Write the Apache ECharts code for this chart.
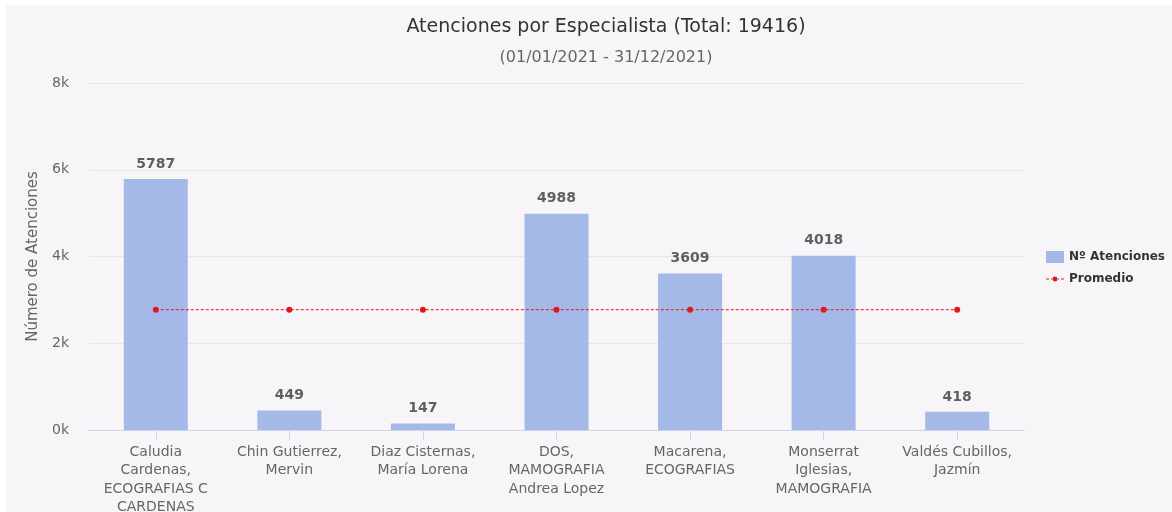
<!DOCTYPE html>
<html>
<head>
<meta charset="utf-8">
<script src="https://cdn.jsdelivr.net/npm/echarts@6/dist/echarts.min.js"></script>
<style>
  html, body { margin: 0; padding: 0; background: #ffffff; }
  #chart { width: 1172px; height: 512px; }
</style>
</head>
<body>
<div id="chart"></div>
<script>
const categories = [
  'Caludia\nCardenas,\nECOGRAFIAS C\nCARDENAS',
  'Chin Gutierrez,\nMervin',
  'Diaz Cisternas,\nMaría Lorena',
  'DOS,\nMAMOGRAFIA\nAndrea Lopez',
  'Macarena,\nECOGRAFIAS',
  'Monserrat\nIglesias,\nMAMOGRAFIA',
  'Valdés Cubillos,\nJazmín',
]
const atenciones = [5787, 449, 147, 4988, 3609, 4018, 418]
const total = 19416
const promedio = categories.map(() => 2773.7)

const font = 'DejaVu Sans, sans-serif'
const chart = echarts.init(document.getElementById('chart'))

// dashed line with a small dot, like the reference legend marker
const promedioIcon = 'path://M0,4.5h3v1.2h-3zM5,4.5h2v1.2h-2zM11,4.5h2v1.2h-2zM15,4.5h3v1.2h-3zM9,2.6a2.5,2.5 0 1,0 0.01,0z'

chart.setOption({
  backgroundColor: '#ffffff',
  textStyle: { fontFamily: font },
  animation: false,
  graphic: [
    {
      type: 'rect',
      z: -10,
      silent: true,
      shape: { x: 6, y: 5, width: 1166, height: 507 },
      style: { fill: '#f7f5f8' },
    },
  ],
  title: {
    text: `Atenciones por Especialista (Total: ${total})`,
    subtext: '(01/01/2021 - 31/12/2021)',
    left: 601,
    textAlign: 'center',
    top: 13,
    itemGap: 13,
    textStyle: { fontFamily: font, fontSize: 19, fontWeight: 'normal', color: '#333333' },
    subtextStyle: { fontFamily: font, fontSize: 16, color: '#666666' },
  },
  legend: {
    orient: 'vertical',
    left: 1041,
    top: 246,
    itemGap: 10,
    itemWidth: 18,
    itemHeight: 12,
    textStyle: { fontFamily: font, fontSize: 12, fontWeight: 'bold', color: '#333333' },
    data: [
      { name: 'Nº Atenciones', icon: 'rect' },
      { name: 'Promedio', icon: promedioIcon },
    ],
  },
  grid: { left: 89, right: 148, top: 83, bottom: 82, outerBoundsMode: 'none' },
  xAxis: {
    type: 'category',
    data: categories,
    axisLine: { lineStyle: { color: '#ccd6eb' } },
    axisTick: { show: true, alignWithLabel: true, length: 10, lineStyle: { color: '#ccd6eb' } },
    axisLabel: { fontFamily: font, fontSize: 14, color: '#666666', lineHeight: 18.5, margin: 13, interval: 0 },
  },
  yAxis: {
    type: 'value',
    min: 0,
    max: 8000,
    interval: 2000,
    name: 'Número de Atenciones',
    nameLocation: 'middle',
    nameGap: 48,
    nameTextStyle: { fontFamily: font, fontSize: 15, color: '#666666' },
    axisLabel: {
      fontFamily: font, fontSize: 14, color: '#666666', margin: 20,
      formatter: v => `${v / 1000}k`,
    },
    splitLine: { lineStyle: { color: '#e6e6e6' } },
  },
  series: [
    {
      name: 'Nº Atenciones',
      type: 'bar',
      data: atenciones,
      barWidth: 64,
      itemStyle: { color: '#a4b9e8' },
      label: {
        show: true,
        position: 'top',
        distance: 8,
        fontFamily: font,
        fontSize: 14,
        fontWeight: 'bold',
        color: '#606060',
      },
    },
    {
      name: 'Promedio',
      type: 'line',
      data: promedio,
      symbol: 'circle',
      symbolSize: 6,
      itemStyle: { color: '#e0181b' },
      lineStyle: { color: '#e0181b', width: 1, type: [3, 2] },
    },
  ],
})
</script>
</body>
</html>
